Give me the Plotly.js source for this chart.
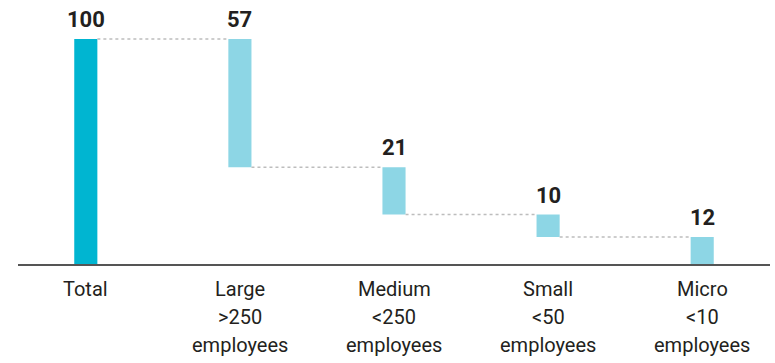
<!DOCTYPE html>
<html>
<head>
<meta charset="utf-8">
<script src="https://cdn.plot.ly/plotly-3.0.1.min.js"></script>
<style>
  html, body { margin: 0; padding: 0; background: #ffffff; }
  #chart { width: 775px; height: 363px; }
</style>
</head>
<body>
<div id="chart"></div>
<script>
// Share of total by company size (waterfall breakdown)
const categories = ['Total', 'Large', 'Medium', 'Small', 'Micro'];
const sizeBands = ['', '>250', '<250', '<50', '<10'];
const unitLabels = ['', 'employees', 'employees', 'employees', 'employees'];
const values = [100, 57, 21, 10, 12];

const totalColor = '#00B5D1';
const partColor = '#8DD6E5';
const textColor = '#231F20';
const barWidth = 0.15;

// First bar is the total; each following bar steps down from the running level.
const bases = [];
const tops = [];
let level = 0;
values.forEach((v, i) => {
  if (i === 0) {
    bases.push(0);
    tops.push(v);
    level = v;
  } else {
    tops.push(level);
    level = level - v;
    bases.push(level);
  }
});
const heights = tops.map((t, i) => t - bases[i]);
const xs = categories.map((_, i) => i);

const traces = [];

// Dotted connectors between consecutive bars at the running level
for (let i = 0; i < xs.length - 1; i++) {
  const y = bases[i] === 0 ? tops[i] : bases[i];
  traces.push({
    type: 'scatter',
    mode: 'lines',
    x: [xs[i] + barWidth / 2, xs[i + 1] - barWidth / 2],
    y: [y, y],
    line: { color: '#bdbdbd', width: 1.3, dash: 'dot' },
    hoverinfo: 'skip',
    showlegend: false
  });
}

traces.push({
  type: 'bar',
  x: xs,
  y: heights,
  base: bases,
  width: barWidth,
  marker: { color: xs.map(i => (i === 0 ? totalColor : partColor)), line: { width: 0 } },
  hoverinfo: 'skip',
  showlegend: false
});

const annotations = [];
xs.forEach((x, i) => {
  annotations.push({
    x: x, y: tops[i], xref: 'x', yref: 'y',
    text: String(values[i]),
    showarrow: false,
    yanchor: 'bottom',
    yshift: 5,
    font: { family: 'Roboto, sans-serif', size: 22, weight: 700, color: textColor }
  });
  const lines = [categories[i], sizeBands[i], unitLabels[i]];
  lines.forEach((txt, k) => {
    if (!txt) return;
    annotations.push({
      x: x, y: 0, xref: 'x', yref: 'paper',
      text: txt,
      showarrow: false,
      yanchor: 'top',
      yshift: -11 - k * 28,
      font: { family: 'Roboto, sans-serif', size: 20, color: textColor }
    });
  });
});

const layout = {
  width: 775,
  height: 363,
  margin: { l: 18, r: 5, t: 10, b: 99 },
  paper_bgcolor: '#ffffff',
  plot_bgcolor: '#ffffff',
  xaxis: {
    range: [-0.44, 4.44],
    showgrid: false,
    zeroline: false,
    showticklabels: false,
    ticks: '',
    showline: true,
    linecolor: '#555555',
    linewidth: 2
  },
  yaxis: {
    range: [0, 112.9],
    showgrid: false,
    zeroline: false,
    showticklabels: false,
    ticks: '',
    showline: false
  },
  annotations: annotations
};

Plotly.newPlot('chart', traces, layout, { staticPlot: true, displayModeBar: false });
</script>
</body>
</html>
